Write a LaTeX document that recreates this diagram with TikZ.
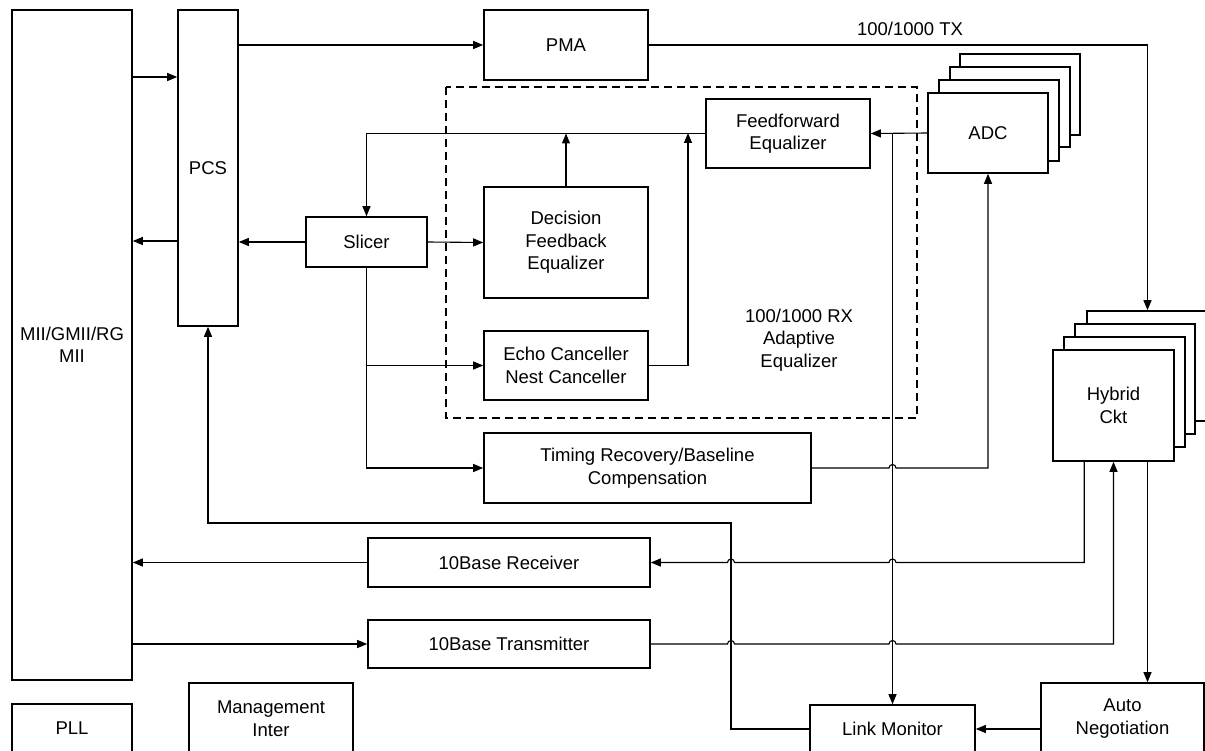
\documentclass[tikz,border=0pt]{standalone}
\usepackage{fontspec}
\setmainfont{Liberation Sans}
\usetikzlibrary{arrows.meta,calc}
\begin{document}
\begin{tikzpicture}[x=1pt,y=-1pt,
  txt/.style={font=\fontsize{18.5}{22.5}\selectfont,align=center,inner sep=0pt},
  box/.style={txt,draw,line width=1.6pt,fill=white},
  conn/.style={line width=1.1pt},
  arr/.style={conn,-{Triangle[length=10pt,width=8pt]}},
  dashbox/.style={draw,line width=1.2pt,dash pattern=on 8pt off 5pt}]
\useasboundingbox (0,0) rectangle (1205,751);

% left column
\node[box,minimum width=120pt,minimum height=670pt] (mii) at (72,345) {MII/GMII/RG\\MII};
\node[box,minimum width=60pt,minimum height=316pt] (pcs) at (208,168) {PCS};
\node[box,minimum width=120pt,minimum height=49pt] (pll) at (72,728.5) {PLL};
\node[box,minimum width=164pt,minimum height=71pt] (mgmt) at (271,718.5) {Management\\Inter};

% adaptive equalizer region
\draw[dashbox] (446,87) rectangle (917,418);
\node[txt] (rxlbl) at (799,340) {100/1000 RX\\Adaptive\\Equalizer};

\node[box,minimum width=164pt,minimum height=70pt] (pma) at (566,45) {PMA};
\node[box,minimum width=164pt,minimum height=69pt] (ffe) at (788,133.5) {Feedforward\\Equalizer};
\node[box,minimum width=121pt,minimum height=50pt] (slicer) at (366.5,242) {Slicer};
\node[box,minimum width=164pt,minimum height=111pt] (dfe) at (566,242.5) {Decision\\Feedback\\Equalizer};
\node[box,minimum width=164pt,minimum height=69pt] (echo) at (566,365.5) {Echo Canceller\\Nest Canceller};
\node[box,minimum width=327pt,minimum height=70pt] (timing) at (647.5,468) {Timing Recovery/Baseline\\Compensation};
\node[box,minimum width=282pt,minimum height=49pt] (rx10) at (509,562.5) {10Base Receiver};
\node[box,minimum width=282pt,minimum height=48pt] (tx10) at (509,644) {10Base Transmitter};

% ADC stack
\node[box,minimum width=120pt,minimum height=81pt] (adc4) at (1020,94.5) {};
\node[box,minimum width=120pt,minimum height=80pt] (adc3) at (1010,107) {};
\node[box,minimum width=120pt,minimum height=81pt] (adc2) at (999,120.5) {};
\node[box,minimum width=120pt,minimum height=80pt] (adc) at (988,133) {ADC};

% Hybrid stack
\node[box,minimum width=121pt,minimum height=110pt] (hyb4) at (1147.5,366) {};
\node[box,minimum width=120pt,minimum height=110pt] (hyb3) at (1135,379) {};
\node[box,minimum width=121pt,minimum height=110pt] (hyb2) at (1124.5,392) {};
\node[box,minimum width=121pt,minimum height=111pt] (hyb) at (1113.5,405.5) {Hybrid\\Ckt};

% bottom row
\node[box,minimum width=165pt,minimum height=48pt] (lm) at (892.5,729) {Link Monitor};
\node[box,minimum width=163pt,minimum height=71pt] (an) at (1122.5,718.5) {Auto\\Negotiation};

\node[txt] (txlbl) at (910,29) {100/1000 TX};

\coordinate (y77) at (0,77);
\coordinate (y241) at (0,241);
\coordinate (j688) at (688,133);
\coordinate (lmk) at (731,523);

% connectors
\draw[arr] (mii.east |- y77) -- (pcs.west |- y77);
\draw[arr] (pcs.west |- y241) -- (mii.east |- y241);
\draw[arr] (slicer.west) -- (pcs.east |- slicer.west);
\draw[arr] (pcs.east |- pma.west) -- (pma.west);
\draw[arr] (pma.east) -| (hyb4.north);
\draw[arr] (adc.west) -- (ffe.east);
\draw[arr] (lm.north |- adc.west) -- (lm.north);
\draw[arr] (ffe.west) -| (slicer.north);
\draw[arr] (dfe.north) -- (dfe.north |- ffe.west);
\draw[arr] (echo.east) -| (j688);
\draw[arr] (slicer.east) -- (dfe.west);
\draw[arr] (slicer.south) |- (timing.west);
\draw[arr] (slicer.south |- echo.west) -- (echo.west);
\draw[arr] (timing.east) -- ($(lm.north |- timing.east)+(-3.5,0)$)
  arc[start angle=180,end angle=0,radius=3.5pt] -| (adc.south);
\draw[arr] ($(hyb.south west)+(32,0)$) |- ($(lm.north |- rx10.east)+(3.5,0)$)
  arc[start angle=0,end angle=180,radius=3.5pt]
  -- ($(lmk |- rx10.east)+(3.5,0)$)
  arc[start angle=0,end angle=180,radius=3.5pt] -- (rx10.east);
\draw[arr] (tx10.east) -- ($(lmk |- tx10.east)+(-3.5,0)$)
  arc[start angle=180,end angle=0,radius=3.5pt]
  -- ($(lm.north |- tx10.east)+(-3.5,0)$)
  arc[start angle=180,end angle=0,radius=3.5pt] -| (hyb.south);
\draw[arr] (hyb.south -| hyb4.north) -- (an.north -| hyb4.north);
\draw[arr] (an.west |- lm.east) -- (lm.east);
\draw[arr] (lm.west) -| (lmk) -| (pcs.south);
\draw[arr] (rx10.west) -- (mii.east |- rx10.west);
\draw[arr] (mii.east |- tx10.west) -- (tx10.west);
\end{tikzpicture}
\end{document}
